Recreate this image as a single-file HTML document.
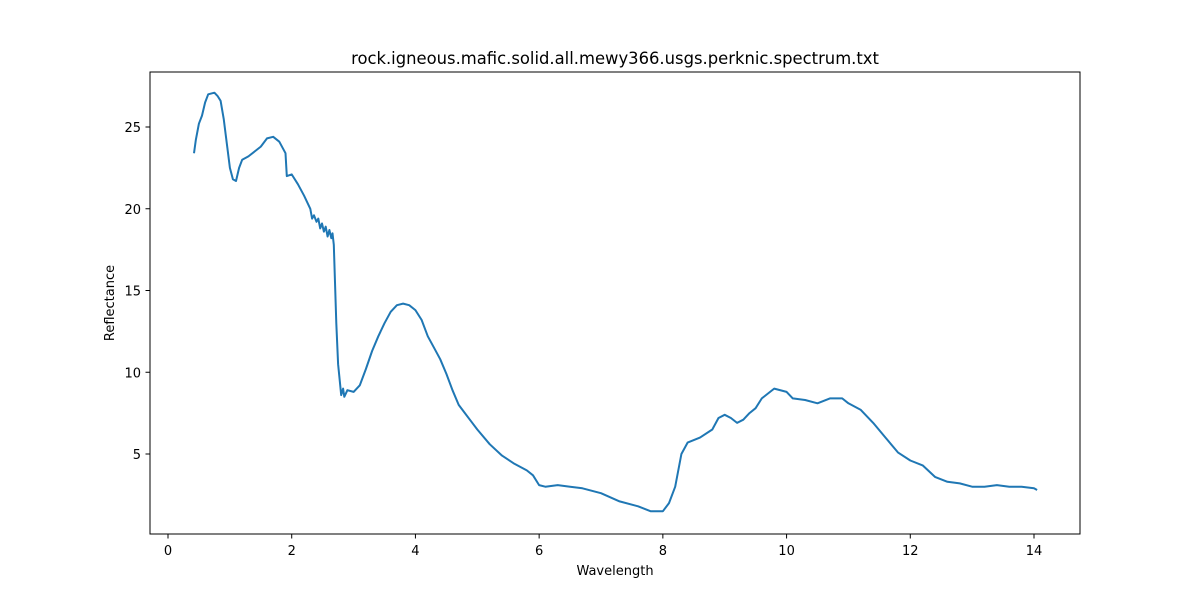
<!DOCTYPE html>
<html><head><meta charset="utf-8">
<style>
body{margin:0;background:#fff;font-family:"Liberation Sans","DejaVu Sans",sans-serif;}
svg text{font-family:"DejaVu Sans","Liberation Sans",sans-serif;fill:#000;}
</style></head>
<body>
<svg id="chart" width="1200" height="600" xmlns="http://www.w3.org/2000/svg">
<rect width="1200" height="600" fill="#fff"/>
<g id="plot"></g>
<rect x="150" y="72" width="930" height="462" fill="none" stroke="#000" stroke-width="1"/>
<text x="615" y="64" font-size="16.4" text-anchor="middle">rock.igneous.mafic.solid.all.mewy366.usgs.perknic.spectrum.txt</text>
<text x="615" y="575" font-size="13" text-anchor="middle">Wavelength</text>
<text x="114" y="303" font-size="13" text-anchor="middle" transform="rotate(-90 114 303)">Reflectance</text>
</svg>
<script>
const wavelengths=[0.42,0.45,0.5,0.55,0.6,0.65,0.75,0.8,0.85,0.9,0.95,1.0,1.05,1.1,1.15,1.2,1.3,1.4,1.5,1.6,1.7,1.8,1.9,1.92,2.0,2.1,2.2,2.3,2.33,2.36,2.4,2.43,2.46,2.49,2.52,2.55,2.58,2.61,2.64,2.66,2.68,2.7,2.72,2.75,2.8,2.83,2.85,2.9,3.0,3.1,3.2,3.3,3.4,3.5,3.6,3.7,3.8,3.9,4.0,4.1,4.2,4.3,4.4,4.5,4.6,4.7,4.8,4.9,5.0,5.2,5.4,5.6,5.8,5.9,6.0,6.1,6.3,6.5,6.7,7.0,7.3,7.6,7.8,8.0,8.1,8.2,8.3,8.4,8.6,8.8,8.9,9.0,9.1,9.2,9.3,9.4,9.5,9.6,9.7,9.8,10.0,10.1,10.3,10.5,10.7,10.9,11.0,11.2,11.4,11.6,11.8,12.0,12.2,12.4,12.6,12.8,13.0,13.2,13.4,13.6,13.8,14.0,14.05];
const reflectance=[23.4,24.2,25.2,25.7,26.5,27.0,27.1,26.9,26.6,25.5,24.0,22.5,21.8,21.7,22.5,23.0,23.2,23.5,23.8,24.3,24.4,24.1,23.4,22.0,22.1,21.5,20.8,20.0,19.4,19.6,19.2,19.4,18.8,19.1,18.6,18.9,18.3,18.7,18.2,18.5,17.8,15.5,13.0,10.5,8.6,9.0,8.5,8.9,8.8,9.2,10.2,11.3,12.2,13.0,13.7,14.1,14.2,14.1,13.8,13.2,12.2,11.5,10.8,9.9,8.9,8.0,7.5,7.0,6.5,5.6,4.9,4.4,4.0,3.7,3.1,3.0,3.1,3.0,2.9,2.6,2.1,1.8,1.5,1.5,2.0,3.0,5.0,5.7,6.0,6.5,7.2,7.4,7.2,6.9,7.1,7.5,7.8,8.4,8.7,9.0,8.8,8.4,8.3,8.1,8.4,8.4,8.1,7.7,6.9,6.0,5.1,4.6,4.3,3.6,3.3,3.2,3.0,3.0,3.1,3.0,3.0,2.9,2.8];
const xTicks=[0,2,4,6,8,10,12,14];
const yTicks=[5,10,15,20,25];
const X=v=>168+v*(1034-168)/14;
const Y=v=>454-(v-5)*(454-127)/20;
const NS="http://www.w3.org/2000/svg";
const g=document.getElementById('plot');
function mk(t,a){const e=document.createElementNS(NS,t);for(const k in a)e.setAttribute(k,a[k]);g.appendChild(e);return e;}
xTicks.forEach(t=>{
  const l=mk('line',{x1:X(t),x2:X(t),y1:534,y2:538.5,stroke:'#000'});
  
  
  const tx=mk('text',{x:X(t),y:555,'font-size':13,'text-anchor':'middle'});tx.textContent=t;
  
  
});
yTicks.forEach(t=>{
  const l=mk('line',{x1:145.5,x2:150,y1:Y(t),y2:Y(t),stroke:'#000'});
  
  
  const tx=mk('text',{x:141,y:Y(t)+5,'font-size':13,'text-anchor':'end'});tx.textContent=t;
  
  
});
const d=wavelengths.map((w,i)=>(i?'L':'M')+X(w).toFixed(1)+','+Y(reflectance[i]).toFixed(1)).join('');
const p=mk('path',{d:d,fill:'none',stroke:'#1f77b4','stroke-width':2,'stroke-linejoin':'round'});


</script>
</body></html>
